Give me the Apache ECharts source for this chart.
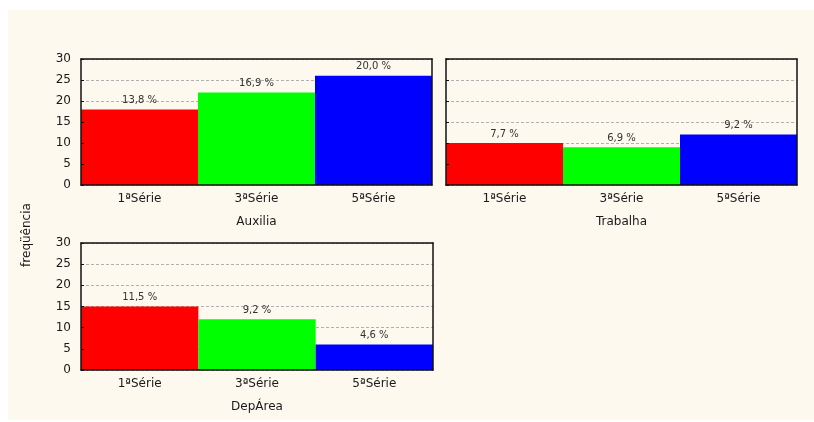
<!DOCTYPE html>
<html>
<head>
<meta charset="utf-8">
<script src="https://cdn.jsdelivr.net/npm/echarts@6/dist/echarts.min.js"></script>
<style>
html,body{margin:0;padding:0;background:#fff}
#main{width:814px;height:422px}
</style>
</head>
<body>
<div id="main"></div>
<script>
var categories = ['1ªSérie', '3ªSérie', '5ªSérie']
var panelNames = ['Auxilia', 'Trabalha', 'DepÁrea']
var auxilia = [18, 22, 26]
var trabalha = [10, 9, 12]
var depArea = [15, 12, 6]
var auxiliaPct = ['13,8 %', '16,9 %', '20,0 %']
var trabalhaPct = ['7,7 %', '6,9 %', '9,2 %']
var depAreaPct = ['11,5 %', '9,2 %', '4,6 %']
var barColors = ['#ff0000', '#00ff00', '#0000ff']

var font = '"DejaVu Sans", Verdana, sans-serif'
var chart = echarts.init(document.getElementById('main'))

var panels = [
  {grid: {left: 81, top: 59, width: 351, height: 126}, data: auxilia, pct: auxiliaPct, yLabels: true},
  {grid: {left: 446, top: 59, width: 351, height: 126}, data: trabalha, pct: trabalhaPct, yLabels: false},
  {grid: {left: 81, top: 243, width: 352, height: 127}, data: depArea, pct: depAreaPct, yLabels: true}
]

var grids = [], xAxes = [], yAxes = [], series = []
panels.forEach(function (p, i) {
  grids.push(p.grid)
  // bottom axis: labels + name
  xAxes.push({
    type: 'category', gridIndex: i, data: categories, position: 'bottom', z: 10,
    axisLine: {onZero: false, lineStyle: {color: '#111', width: 1.5}},
    axisTick: {inside: true, length: 3, lineStyle: {color: '#111'}},
    axisLabel: {color: '#1a1a1a', fontSize: 12, fontFamily: font, margin: 8},
    name: panelNames[i], nameLocation: 'middle', nameGap: 31,
    nameTextStyle: {color: '#1a1a1a', fontSize: 12, fontFamily: font}
  })
  // top frame
  xAxes.push({
    type: 'category', gridIndex: i, data: categories, position: 'top', z: 10,
    axisLine: {onZero: false, lineStyle: {color: '#111', width: 1.5}},
    axisTick: {inside: true, length: 3, lineStyle: {color: '#111'}},
    axisLabel: {show: false}
  })
  // value axis with grid lines (below bars)
  yAxes.push({
    type: 'value', gridIndex: i, min: 0, max: 30, interval: 5, position: 'left',
    axisLine: {show: false}, axisTick: {show: false},
    axisLabel: {show: p.yLabels, color: '#1a1a1a', fontSize: 12, fontFamily: font, margin: 10},
    splitLine: {show: true, lineStyle: {color: '#b0b0b0', type: [3, 2], width: 1}}
  })
  // left frame with ticks (above bars)
  yAxes.push({
    type: 'value', gridIndex: i, min: 0, max: 30, interval: 5, position: 'left', z: 10,
    axisLine: {show: true, onZero: false, lineStyle: {color: '#111', width: 1.5}},
    axisTick: {show: true, inside: true, length: 3, lineStyle: {color: '#111'}},
    axisLabel: {show: false}, splitLine: {show: false}
  })
  // right frame
  yAxes.push({
    type: 'value', gridIndex: i, min: 0, max: 30, interval: 5, position: 'right', z: 10,
    axisLine: {show: true, onZero: false, lineStyle: {color: '#111', width: 1.5}},
    axisTick: {show: false}, axisLabel: {show: false}, splitLine: {show: false}
  })
  series.push({
    type: 'bar', xAxisIndex: i * 2, yAxisIndex: i * 3,
    barCategoryGap: 0, barWidth: '100%',
    data: p.data.map(function (v, k) {
      return {value: v, itemStyle: {color: barColors[k]}}
    }),
    label: {
      show: true, position: 'top', distance: 4,
      color: '#333', fontSize: 10, fontFamily: font,
      formatter: function (prm) { return p.pct[prm.dataIndex] }
    }
  })
})

var option = {
  backgroundColor: '#fff',
  animation: false,
  graphic: [
    {type: 'rect', left: 8, top: 10, z: -10, shape: {width: 806, height: 410}, style: {fill: '#fdf9ef'}},
    {type: 'text', x: 27, y: 235, rotation: Math.PI / 2,
      style: {text: 'freqüência', fill: '#1a1a1a', font: '12px ' + font, align: 'center', verticalAlign: 'middle'}}
  ],
  grid: grids,
  xAxis: xAxes,
  yAxis: yAxes,
  series: series
}
chart.setOption(option)
</script>
</body>
</html>
